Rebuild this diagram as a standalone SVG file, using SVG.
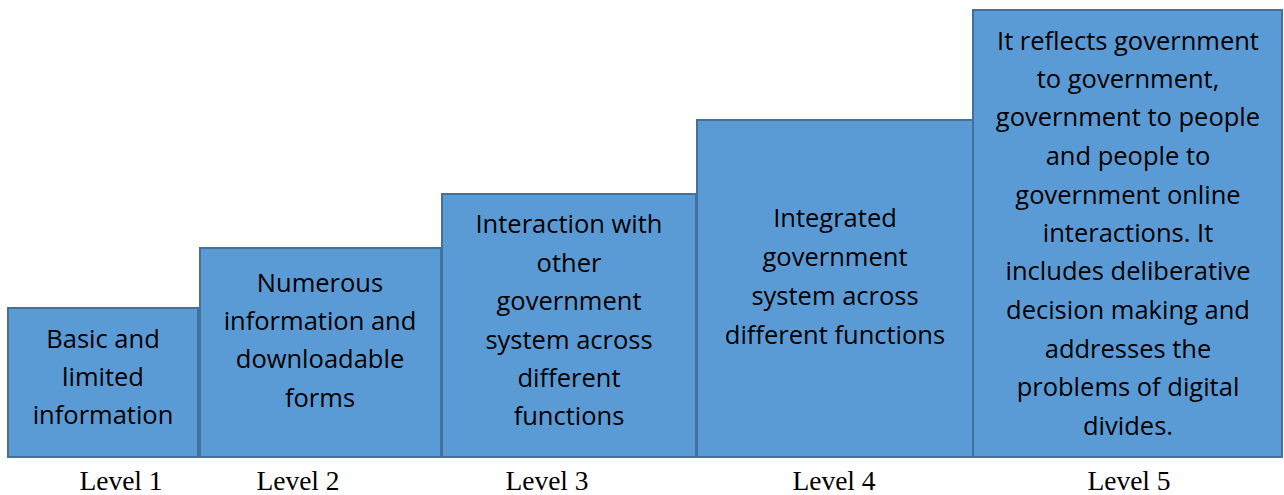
<svg xmlns="http://www.w3.org/2000/svg" width="1284" height="495" viewBox="0 0 1284 495">
<style>
.box{fill:#5B9BD5;stroke:#41719C;stroke-width:2}
.t{font-family:"Open Sans","Noto Sans",sans-serif;font-size:25.5px;fill:#000;text-anchor:middle}
.l{font-family:"Liberation Serif","Times New Roman",serif;font-size:27.5px;fill:#000;text-anchor:middle}
</style>
<rect width="1284" height="495" fill="#fff"/>
<g id="level1">
<rect class="box" x="8" y="308" width="190" height="149"/>
<text class="t" x="103" y="348">Basic and</text>
<text class="t" x="103" y="386">limited</text>
<text class="t" x="103" y="424">information</text>
<text class="l" x="121" y="490">Level 1</text>
</g>
<g id="level2">
<rect class="box" x="200" y="248" width="241" height="209"/>
<text class="t" x="320" y="292">Numerous</text>
<text class="t" x="320" y="330">information and</text>
<text class="t" x="320" y="368">downloadable</text>
<text class="t" x="320" y="407">forms</text>
<text class="l" x="298" y="490">Level 2</text>
</g>
<g id="level3">
<rect class="box" x="442" y="194" width="254" height="263"/>
<text class="t" x="569" y="233">Interaction with</text>
<text class="t" x="569" y="272">other</text>
<text class="t" x="569" y="310">government</text>
<text class="t" x="569" y="349">system across</text>
<text class="t" x="569" y="387">different</text>
<text class="t" x="569" y="425">functions</text>
<text class="l" x="547" y="490">Level 3</text>
</g>
<g id="level4">
<rect class="box" x="697" y="120" width="276" height="337"/>
<text class="t" x="835" y="227">Integrated</text>
<text class="t" x="835" y="266">government</text>
<text class="t" x="835" y="305">system across</text>
<text class="t" x="835" y="344">different functions</text>
<text class="l" x="834" y="490">Level 4</text>
</g>
<g id="level5">
<rect class="box" x="973" y="10" width="309" height="447"/>
<text class="t" x="1128" y="50">It reflects government</text>
<text class="t" x="1128" y="88">to government,</text>
<text class="t" x="1128" y="126">government to people</text>
<text class="t" x="1128" y="165">and people to</text>
<text class="t" x="1128" y="204">government online</text>
<text class="t" x="1128" y="242">interactions. It</text>
<text class="t" x="1128" y="280">includes deliberative</text>
<text class="t" x="1128" y="319">decision making and</text>
<text class="t" x="1128" y="358">addresses the</text>
<text class="t" x="1128" y="396">problems of digital</text>
<text class="t" x="1128" y="435">divides.</text>
<text class="l" x="1129" y="490">Level 5</text>
</g>
<g id="connectors"/>
</svg>
